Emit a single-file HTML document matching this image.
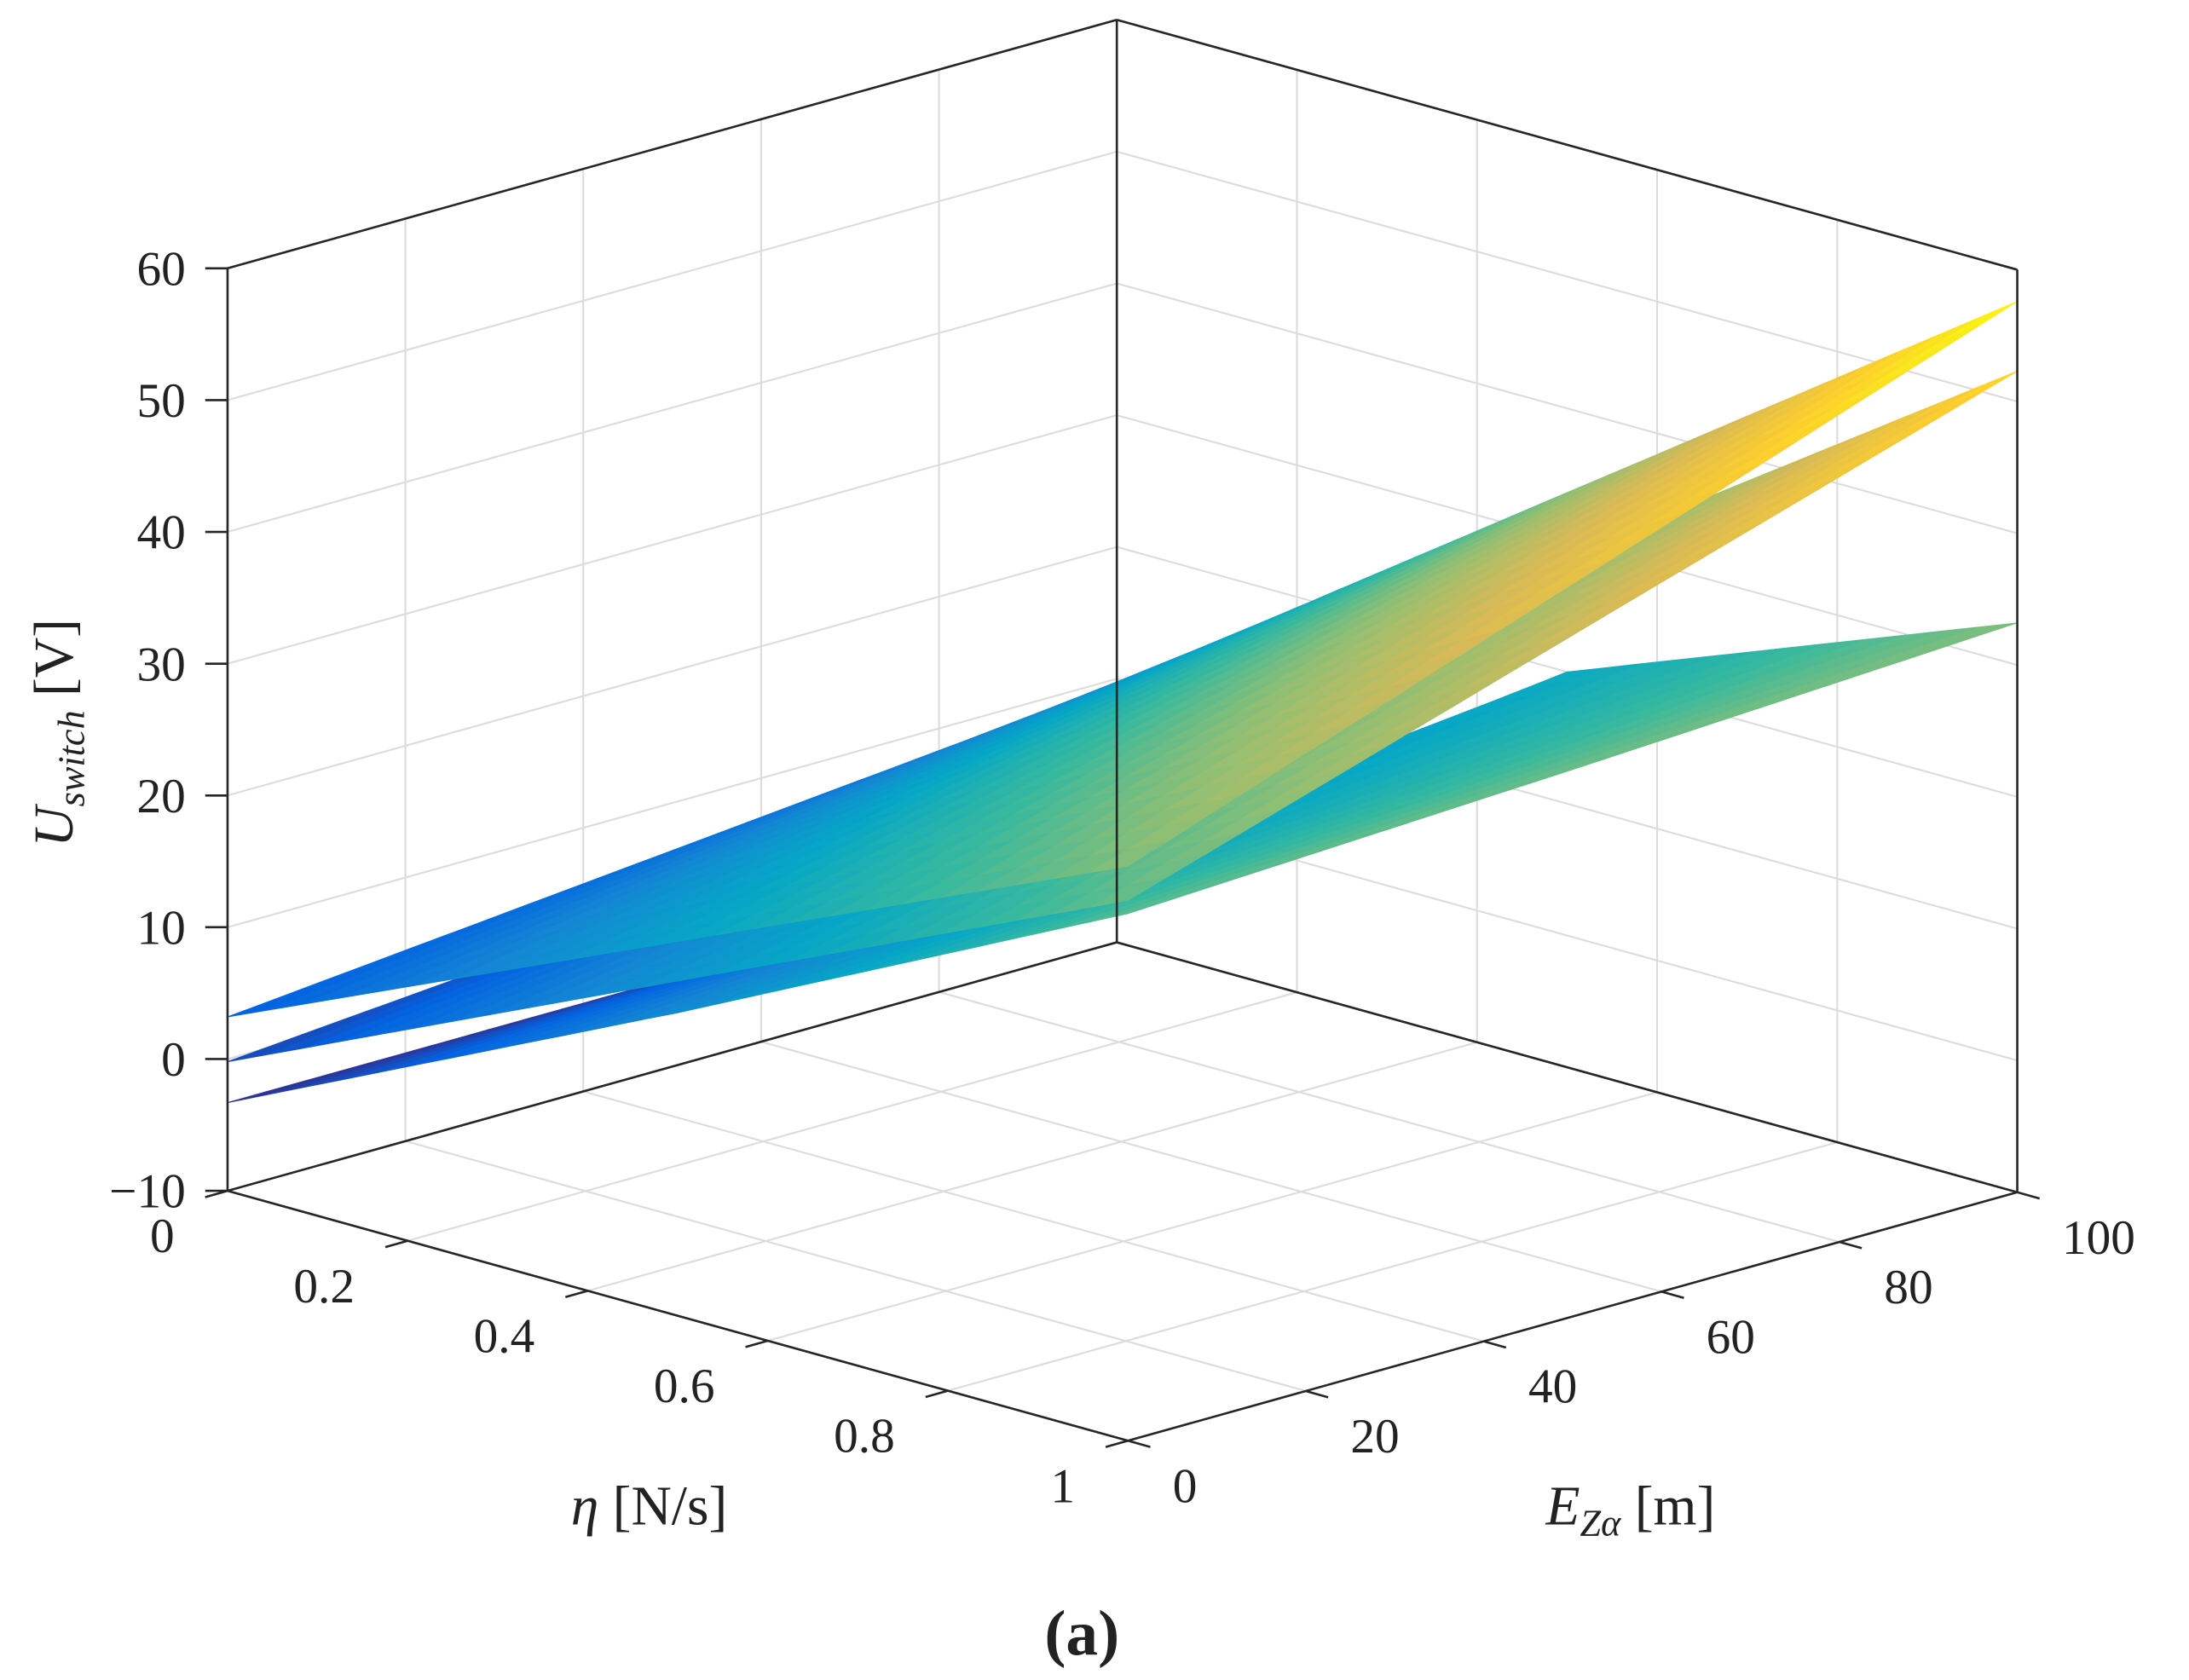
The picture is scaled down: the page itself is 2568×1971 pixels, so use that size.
<!DOCTYPE html>
<html><head><meta charset="utf-8"><style>
html,body{margin:0;padding:0;background:#fff;}
svg{display:block;}
text{font-family:"Liberation Serif",serif;fill:#222;}
</style></head><body>
<svg id="chart" width="2568" height="1971" viewBox="0 0 1568 1203.4" preserveAspectRatio="none" xmlns="http://www.w3.org/2000/svg">
<g id="grid"></g>
<g id="surf"></g>
<g id="axes"></g>
<g id="labels"></g>
<text x="465" y="1092" font-size="40" text-anchor="middle"><tspan font-style="italic">η</tspan> [N/s]</text>
<text x="1168" y="1092" font-size="40" text-anchor="middle"><tspan font-style="italic">E</tspan><tspan font-style="italic" font-size="27" dy="8">Zα</tspan><tspan dy="-8"> [m]</tspan></text>
<text transform="translate(52,525) rotate(-90)" font-size="40" text-anchor="middle"><tspan font-style="italic">U</tspan><tspan font-style="italic" font-size="27" dy="8">switch</tspan><tspan dy="-8">  [V]</tspan></text>
<text x="775" y="1185" font-size="46" font-weight="bold" text-anchor="middle">(a)</text>
</svg>
<script>
// grid axes: eta values (rows) and E values (cols)
const etaVals = [0, 0.5, 1];
const eVals = [0, 50, 100];
// three sheets, z[etaIndex][eIndex] in volts
const sheetA = [[3.2, 6.4, 9.6],[18.4, 26.0, 33.6],[33.6, 45.6, 57.6]];
const sheetB = [[-0.2, 2.6, 5.4],[15.4, 22.1, 28.9],[31.0, 41.7, 52.3]];
const sheetC = [[-3.3, -3.3, -3.3],[13.0, 16.0, 20.0],[30.0, 31.5, 33.2]];
const zTicks = [-10, 0, 10, 20, 30, 40, 50, 60];
const zTickLabels = ["\u221210","0","10","20","30","40","50","60"];
const etaTicks = [0, 0.2, 0.4, 0.6, 0.8, 1];
const etaTickLabels = ["0","0.2","0.4","0.6","0.8","1"];
const eTicks = [0, 20, 40, 60, 80, 100];
const eTickLabels = ["0","20","40","60","80","100"];

const NS = "http://www.w3.org/2000/svg";
function P(eta, E, z){
  const e = E/100;
  return [163 + eta*645 + e*637, 853 + eta*179 - e*178 - (z+10)*9.44];
}
function mk(tag, attrs, parent){
  const el = document.createElementNS(NS, tag);
  for (const k in attrs) el.setAttribute(k, attrs[k]);
  parent.appendChild(el); return el;
}
const grid = document.getElementById('grid');
const axes = document.getElementById('axes');
const labels = document.getElementById('labels');
const surf = document.getElementById('surf');
function line(a,b,parent,stroke,w,name){
  const l = mk('line',{x1:a[0],y1:a[1],x2:b[0],y2:b[1],stroke:stroke,'stroke-width':w},parent);
  
  
  return l;
}
const gc = '#dcdcdc';
zTicks.forEach(z=>{
  line(P(0,0,z),P(0,100,z),grid,gc,1.3,'z-gridline-left-wall');
  line(P(0,100,z),P(1,100,z),grid,gc,1.3,'z-gridline-right-wall');
});
eTicks.forEach(E=>{
  line(P(0,E,-10),P(0,E,60),grid,gc,1.3,'e-gridline-wall');
  line(P(0,E,-10),P(1,E,-10),grid,gc,1.3,'e-gridline-floor');
});
etaTicks.forEach(t=>{
  line(P(t,100,-10),P(t,100,60),grid,gc,1.3,'eta-gridline-wall');
  line(P(t,0,-10),P(t,100,-10),grid,gc,1.3,'eta-gridline-floor');
});
const par = ['#352A87','#0363E1','#1485D4','#06A7C6','#38B99E','#92BF73','#D9BA56','#FCCE2E','#F9FB0E'];
function hex(h){return [parseInt(h.slice(1,3),16),parseInt(h.slice(3,5),16),parseInt(h.slice(5,7),16)];}
function cmap(t){
  t=Math.max(0,Math.min(1,t)); const f=t*(par.length-1); const i=Math.min(par.length-2,Math.floor(f)); const u=f-i;
  const a=hex(par[i]), b=hex(par[i+1]);
  return 'rgb('+a.map((v,k)=>Math.round(v+(b[k]-v)*u)).join(',')+')';
}
function bil(Z, eta, E){
  let i = eta<=etaVals[1]?0:1, j = E<=eVals[1]?0:1;
  const u=(eta-etaVals[i])/(etaVals[i+1]-etaVals[i]);
  const v=(E-eVals[j])/(eVals[j+1]-eVals[j]);
  return Z[i][j]*(1-u)*(1-v)+Z[i+1][j]*u*(1-v)+Z[i][j+1]*(1-u)*v+Z[i+1][j+1]*u*v;
}
const quads=[];
const N=24;
[sheetA,sheetB,sheetC].forEach((Z,s)=>{
  for(let a=0;a<N;a++)for(let b=0;b<N;b++){
    const e0=a/N,e1=(a+1)/N,E0=b/N*100,E1=(b+1)/N*100;
    const z00=bil(Z,e0,E0),z10=bil(Z,e1,E0),z11=bil(Z,e1,E1),z01=bil(Z,e0,E1);
    const zm=(z00+z10+z11+z01)/4;
    const depth=((e0+e1)/2)-((E0+E1)/200)+zm/140;
    quads.push({pts:[P(e0,E0,z00),P(e1,E0,z10),P(e1,E1,z11),P(e0,E1,z01)],c:cmap((zm+4)/62),d:depth,s:s});
  }
});
quads.sort((p,q)=>p.d-q.d);
quads.forEach(q=>{
  const el=mk('polygon',{points:q.pts.map(p=>p[0].toFixed(1)+','+p[1].toFixed(1)).join(' '),fill:q.c,stroke:q.c,'stroke-width':0.6},surf);
  
  
});
const k='#262626';
line(P(0,0,-10),P(0,0,60),axes,k,1.6,'z-axis-line');
line(P(0,100,-10),P(0,100,60),axes,k,1.6,'back-edge');
line(P(1,100,-10),P(1,100,60),axes,k,1.6,'right-edge');
line(P(0,0,60),P(0,100,60),axes,k,1.6,'top-edge-left');
line(P(0,100,60),P(1,100,60),axes,k,1.6,'top-edge-right');
line(P(0,0,-10),P(0,100,-10),axes,k,1.6,'floor-edge-back-left');
line(P(0,100,-10),P(1,100,-10),axes,k,1.6,'floor-edge-back-right');
line(P(0,0,-10),P(1,0,-10),axes,k,1.6,'eta-axis-line');
line(P(1,0,-10),P(1,100,-10),axes,k,1.6,'e-axis-line');
zTicks.forEach((z,i)=>{
  const p=P(0,0,z);
  line(p,[p[0]-16,p[1]],axes,k,1.6,'z-tick');
  const t=mk('text',{x:p[0]-30,y:p[1]+12,'font-size':35,'text-anchor':'end'},labels);
  t.textContent=zTickLabels[i];
  
  
});
etaTicks.forEach((v,i)=>{
  const p=P(v,0,-10);
  line(p,[p[0]-16,p[1]+4.5],axes,k,1.6,'eta-tick');
  const t=mk('text',{x:p[0]-38,y:p[1]+44,'font-size':35,'text-anchor':'end'},labels);
  t.textContent=etaTickLabels[i];
  
  
});
eTicks.forEach((v,i)=>{
  const p=P(1,v,-10);
  line(p,[p[0]+16,p[1]+4.5],axes,k,1.6,'e-tick');
  const t=mk('text',{x:p[0]+32,y:p[1]+44,'font-size':35,'text-anchor':'start'},labels);
  t.textContent=eTickLabels[i];
  
  
});
</script>
</body></html>
